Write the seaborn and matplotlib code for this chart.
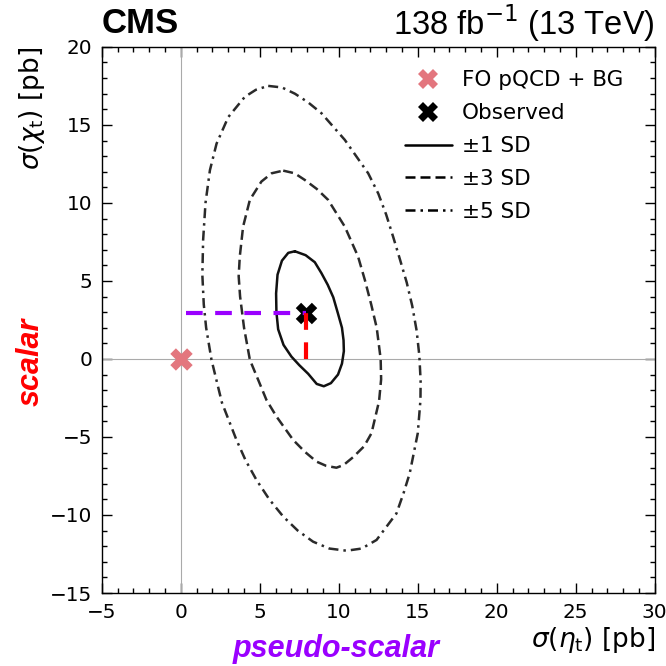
import numpy as np
import pandas as pd
import seaborn as sns
import matplotlib.pyplot as plt
from matplotlib.lines import Line2D
from matplotlib.ticker import MultipleLocator

# contour points (sigma(eta_t), sigma(chi_t)) in pb
sd1_x = [7.22, 7.9, 8.48, 8.9, 9.3, 9.65, 9.95, 10.2, 10.3, 10.32, 10.2, 9.95, 9.5, 9.05,
         8.6, 8.06, 7.5, 7.0, 6.5, 6.16, 6.05, 6.03, 6.12, 6.4, 6.8, 7.22]
sd1_y = [6.9, 6.65, 6.2, 5.5, 4.75, 3.95, 2.9, 2.0, 1.2, 0.5, -0.3, -1.0, -1.55, -1.75,
         -1.6, -0.95, -0.4, 0.15, 0.9, 1.9, 3.0, 4.2, 5.4, 6.3, 6.8, 6.9]

sd3_x = [6.48, 7.2, 7.85, 8.6, 9.32, 10.38, 11.22, 11.65, 12.05, 12.4, 12.65, 12.68, 12.55,
         12.07, 11.6, 10.9, 10.3, 9.85, 9.2, 8.59, 7.85, 7.11, 6.06, 5.42, 4.9, 4.37, 4.0,
         3.75, 3.66, 3.73, 3.94, 4.37, 5.1, 5.75, 6.48]
sd3_y = [12.07, 11.9, 11.47, 10.9, 10.2, 8.48, 6.56, 5.06, 3.5, 2.0, 0.0, -1.3, -2.7,
         -4.76, -5.6, -6.3, -6.8, -6.97, -6.85, -6.58, -5.95, -5.19, -3.7, -2.63, -1.35,
         -0.06, 2.0, 4.0, 5.3, 6.56, 8.48, 10.2, 11.37, 11.9, 12.07]

sd5_x = [5.53, 6.4, 7.22, 8.05, 8.9, 10.38, 11.86, 12.5, 13.0, 13.45, 13.88, 14.3, 14.65,
         14.93, 15.1, 15.18, 15.17, 15.0, 14.49, 14.1, 13.65, 12.39, 11.45, 10.49, 9.4,
         8.37, 7.4, 6.48, 5.6, 4.79, 4.1, 3.52, 2.6, 1.94, 1.6, 1.45, 1.36, 1.41, 1.56,
         1.84, 2.26, 3.0, 4.05, 4.75, 5.53]
sd5_y = [17.5, 17.4, 17.0, 16.45, 15.75, 14.04, 11.9, 10.6, 9.25, 7.8, 6.35, 4.9, 3.4,
         1.8, 0.2, -1.4, -2.63, -4.76, -7.33, -8.6, -9.9, -11.6, -12.15, -12.29, -12.15,
         -11.71, -11.0, -10.1, -9.0, -7.76, -6.5, -5.19, -2.8, -0.06, 2.0, 3.5, 5.4, 7.63,
         10.0, 12.1, 13.8, 15.5, 16.8, 17.25, 17.5]

sm_x, sm_y = 0.0, 0.0          # FO pQCD + BG
obs_x, obs_y = 7.95, 2.95      # observed
pseudo_start = 0.35

purple = "#9a00ff"
pink = "#e3767e"

sns.set_style("ticks")
plt.rcParams['font.family'] = ['DejaVu Sans']
plt.rcParams['mathtext.fontset'] = 'dejavusans'
for k in ['text.color', 'axes.labelcolor', 'xtick.color', 'ytick.color', 'axes.edgecolor']:
    plt.rcParams[k] = 'black'

fig = plt.figure(figsize=(6.66, 6.66), dpi=100)
ax = fig.add_axes([0.153, 0.1096, 0.830, 0.820])

ax.axvline(0, color="#aaaaaa", lw=0.8, zorder=1)
ax.axhline(0, color="#aaaaaa", lw=0.8, zorder=1)

contours = [
    (sd1_x, sd1_y, "-", "#111111"),
    (sd3_x, sd3_y, (0, (4, 2)), "#2a2a2a"),
    (sd5_x, sd5_y, (0, (4, 2, 1, 2)), "#2a2a2a"),
]
for cx, cy, ls, col in contours:
    df = pd.DataFrame({"x": cx, "y": cy})
    sns.lineplot(data=df, x="x", y="y", sort=False, estimator=None, color=col,
                 lw=1.8, linestyle=ls, solid_joinstyle="round", dash_joinstyle="round",
                 ax=ax, zorder=2)

sns.scatterplot(x=[sm_x], y=[sm_y], marker="X", s=260, color=pink, linewidth=0, ax=ax, zorder=3)
sns.scatterplot(x=[obs_x], y=[obs_y], marker="X", s=240, color="black", linewidth=0, ax=ax, zorder=3)

ax.plot([pseudo_start, obs_x], [obs_y, obs_y], color=purple, lw=3, dashes=(4, 3), zorder=4)
ax.plot([obs_x, obs_x], [0, obs_y], color="red", lw=3, dashes=(4, 3), zorder=4)

ax.set_xlim(-5, 30)
ax.set_ylim(-15, 20)
ax.xaxis.set_major_locator(MultipleLocator(5))
ax.xaxis.set_minor_locator(MultipleLocator(1))
ax.yaxis.set_major_locator(MultipleLocator(5))
ax.yaxis.set_minor_locator(MultipleLocator(1))
ax.tick_params(which="both", direction="in", top=True, right=True, labelsize=14.4, width=1)
ax.tick_params(which="major", length=7.5, pad=7)
ax.tick_params(which="minor", length=3.8)
for s in ax.spines.values():
    s.set_linewidth(1)

ax.set_xlabel(r"$\sigma(\eta_{\mathrm{t}})$ [pb]", fontsize=19, loc="right", labelpad=2)
ax.set_ylabel(r"$\sigma(\chi_{\mathrm{t}})$ [pb]", fontsize=19, loc="top", labelpad=2)

handles = [
    Line2D([], [], marker="X", color=pink, ls="none", markersize=15, markeredgewidth=0),
    Line2D([], [], marker="X", color="black", ls="none", markersize=14, markeredgewidth=0),
    Line2D([], [], color="black", lw=1.8),
    Line2D([], [], color="black", lw=1.8, ls=(0, (4, 2))),
    Line2D([], [], color="black", lw=1.8, ls=(0, (4, 2, 1, 2))),
]
labels = ["FO pQCD + BG", "Observed", "±1 SD", "±3 SD", "±5 SD"]
ax.legend(handles, labels, loc="upper left", bbox_to_anchor=(0.532, 0.973), frameon=False,
          fontsize=15.5, handlelength=2.19, handletextpad=0.47, labelspacing=0.6,
          borderaxespad=0)

ax.text(0.0, 1.026, "CMS", transform=ax.transAxes, ha="left", va="baseline",
        family="Liberation Sans", weight="bold", fontsize=25)
ax.text(1.0, 1.022, r"138 fb$^{-1}$ (13 TeV)", transform=ax.transAxes, ha="right",
        va="baseline", family="Liberation Sans", fontsize=23.5)

fig.text(0.505, 0.026, "pseudo-scalar", ha="center", va="center", color=purple,
         family="Liberation Sans", weight="bold", style="italic", fontsize=22)
fig.text(0.046, 0.457, "scalar", ha="center", va="center", rotation=90, color="red",
         family="Liberation Sans", weight="bold", style="italic", fontsize=22)

fig.savefig("out.png", dpi=100)
